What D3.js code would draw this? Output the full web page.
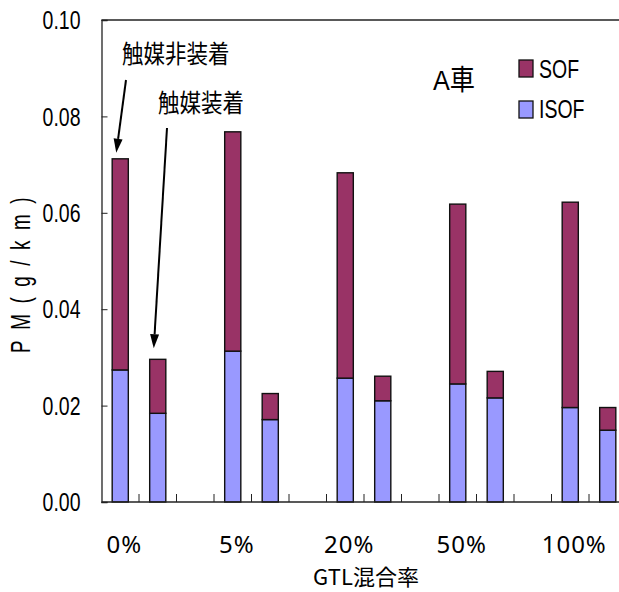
<!DOCTYPE html>
<html>
<head>
<meta charset="utf-8">
<script src="https://cdn.jsdelivr.net/npm/d3@7"></script>
<style>
  html, body { margin: 0; padding: 0; background: #fff; }
  svg { display: block; }
</style>
</head>
<body>
<svg id="chart" width="619" height="592"></svg>
<script>
// GTL blend ratios (one group of bars each)
const blends = ["0%", "5%", "20%", "50%", "100%"];
// catalyst condition within each group
const catalyst = ["触媒非装着", "触媒装着"];
// PM components, g/km, in order: blend × catalyst (without, with)
const isofValues = [0.0274, 0.0184, 0.0313, 0.0171, 0.0257, 0.0210, 0.0245, 0.0216, 0.0196, 0.0149];
const sofValues  = [0.0438, 0.0112, 0.0455, 0.0054, 0.0426, 0.0051, 0.0373, 0.0055, 0.0426, 0.0047];
const seriesNames = ["SOF", "ISOF"];
const yTicks = [0.00, 0.02, 0.04, 0.06, 0.08, 0.10];

const colors = { SOF: "#993366", ISOF: "#9999FF" };
const svg = d3.select("#chart");
const W = 619;
const plotLeft = 101.5, plotTop = 20, plotBottom = 502;

// slot keys: two bars per blend, then an empty slot
const slots = [];
const rows = [];
blends.forEach((b, i) => {
  catalyst.forEach((c, j) => {
    const k = b + "|" + j;
    slots.push(k);
    rows.push({ key: k, blend: b, cat: c, ISOF: isofValues[i * 2 + j], SOF: sofValues[i * 2 + j] });
  });
  if (i < blends.length - 1) slots.push(b + "|gap");
});

const x = d3.scaleBand().domain(slots).range([plotLeft, plotLeft + slots.length * 37.5]).padding(0);
const barW = x.bandwidth() * 0.43;
const y = d3.scaleLinear().domain([0, 0.10]).range([plotBottom, plotTop]);

const stacked = d3.stack().keys(["ISOF", "SOF"])(rows);

// bars
svg.append("g").selectAll("g").data(stacked).join("g")
  .attr("fill", d => colors[d.key])
  .selectAll("rect").data(d => d).join("rect")
  .attr("x", d => x(d.data.key) + (x.bandwidth() - barW) / 2)
  .attr("width", barW)
  .attr("y", d => y(d[1]))
  .attr("height", d => y(d[0]) - y(d[1]))
  .attr("stroke", "#111")
  .attr("stroke-width", 1.4);

// frame: top line
svg.append("line").attr("x1", plotLeft).attr("x2", W).attr("y1", plotTop).attr("y2", plotTop)
  .attr("stroke", "#222").attr("stroke-width", 1.3);

// y axis
const yAxis = svg.append("g").attr("transform", `translate(${plotLeft},0)`)
  .call(d3.axisLeft(y).tickValues(yTicks).tickSize(-6).tickPadding(21).tickFormat(d3.format(".2f")));
yAxis.select(".domain").attr("stroke", "#222").attr("stroke-width", 1.3);
yAxis.selectAll(".tick line").attr("stroke", "#222");
yAxis.selectAll(".tick text").each(function () {
  const t = d3.select(this);
  const tx = +t.attr("x");
  t.attr("x", null)
    .attr("transform", `translate(${tx},0) scale(0.78,1)`)
    .attr("dy", "0.35em")
    .attr("font-family", "'Liberation Sans', Arial, sans-serif")
    .attr("font-size", 25)
    .attr("fill", "#000");
});

// x axis: ticks at slot boundaries
const xAxisG = svg.append("g");
xAxisG.append("line").attr("x1", plotLeft).attr("x2", W).attr("y1", plotBottom).attr("y2", plotBottom)
  .attr("stroke", "#222").attr("stroke-width", 1.3);
xAxisG.selectAll("line.tk").data(slots.slice(1)).join("line").attr("class", "tk")
  .attr("x1", d => x(d)).attr("x2", d => x(d))
  .attr("y1", plotBottom).attr("y2", plotBottom - 8)
  .attr("stroke", "#222");
xAxisG.selectAll("text").data(blends).join("text")
  .attr("x", d => x(d + "|0") + x.bandwidth() / 2 + 4)
  .attr("y", 553)
  .attr("text-anchor", "middle")
  .attr("font-family", "'Noto Sans', sans-serif")
  .attr("font-size", 24)
  .attr("letter-spacing", 1)
  .text(d => d);

// axis titles
svg.append("text")
  .attr("x", 366).attr("y", 585)
  .attr("text-anchor", "middle")
  .attr("font-family", "'Noto Sans CJK JP', sans-serif")
  .attr("font-size", 22)
  .text("GTL混合率");

svg.append("text")
  .attr("transform", "translate(30,270) rotate(-90) scale(0.7,1)")
  .attr("text-anchor", "middle")
  .attr("font-family", "'Liberation Sans', Arial, sans-serif")
  .attr("font-size", 27)
  .attr("letter-spacing", 15)
  .text("PM(g/km)");

// condensed text helper
function ctext(px, py, str, size, sx, family) {
  return svg.append("text")
    .attr("transform", `translate(${px},${py}) scale(${sx},1)`)
    .attr("font-family", family)
    .attr("font-size", size)
    .text(str);
}

// car label
ctext(433, 90, "A車", 28, 0.9, "'Liberation Sans', 'Noto Sans CJK JP', sans-serif");

// legend
const legend = svg.append("g");
seriesNames.forEach((s, i) => {
  legend.append("rect")
    .attr("x", 519).attr("y", 60 + i * 41).attr("width", 14).attr("height", 17)
    .attr("fill", colors[s]).attr("stroke", "#111").attr("stroke-width", 1.3);
  ctext(539, 78 + i * 40, s, 25, 0.78, "'Liberation Sans', Arial, sans-serif");
});

// annotations with arrows pointing at the first group's bars
const ann = [
  { row: rows[0], text: catalyst[0], tx: 122, ty: 63, from: [126, 80], dx: -4, dy: -6 },
  { row: rows[1], text: catalyst[1], tx: 158, ty: 112, from: [167, 128], dx: -4, dy: -11 }
];
ann.forEach(a => {
  ctext(a.tx, a.ty, a.text, 25, 0.86, "'Noto Sans CJK JP', sans-serif");
  const tip = [x(a.row.key) + x.bandwidth() / 2 + a.dx, y(a.row.ISOF + a.row.SOF) + a.dy];
  const ang = Math.atan2(tip[1] - a.from[1], tip[0] - a.from[0]);
  const len = 14, half = 4.5;
  const base = [tip[0] - len * Math.cos(ang), tip[1] - len * Math.sin(ang)];
  svg.append("line")
    .attr("x1", a.from[0]).attr("y1", a.from[1]).attr("x2", base[0]).attr("y2", base[1])
    .attr("stroke", "#000").attr("stroke-width", 2);
  const p1 = [base[0] + half * Math.sin(ang), base[1] - half * Math.cos(ang)];
  const p2 = [base[0] - half * Math.sin(ang), base[1] + half * Math.cos(ang)];
  svg.append("path")
    .attr("d", `M${tip[0]},${tip[1]}L${p1[0]},${p1[1]}L${p2[0]},${p2[1]}Z`)
    .attr("fill", "#000");
});
</script>
</body>
</html>
